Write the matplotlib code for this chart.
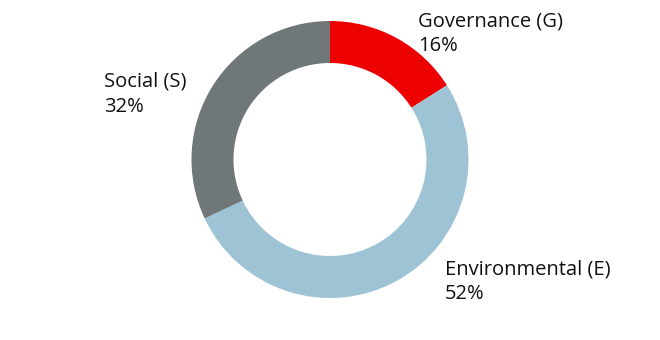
import matplotlib
matplotlib.use("Agg")
import matplotlib.pyplot as plt

categories = ["Governance (G)", "Environmental (E)", "Social (S)"]
values = [16, 52, 32]
colors = ["#EC0000", "#9DC3D4", "#6F7779"]
label_pos = {"Governance (G)": (418, 26), "Environmental (E)": (445, 274), "Social (S)": (104, 87)}

plt.rcParams['font.family'] = ['Open Sans', 'DejaVu Sans']

fig = plt.figure(figsize=(6.6, 3.4), dpi=100)
ax = fig.add_axes([0, 0, 1, 1])
ax.set_xlim(0, 660)
ax.set_ylim(340, 0)
ax.axis('off')

H = 340
ax2 = fig.add_axes([0, 0, 1, 1])
ax2.pie(values, colors=colors, startangle=90, counterclock=False,
        center=(330, H - 159.5), radius=138.5,
        wedgeprops=dict(width=42, linewidth=0), frame=True)
ax2.set_xlim(0, 660)
ax2.set_ylim(0, 340)
ax2.set_aspect('equal')
ax2.axis('off')

for cat, val in zip(categories, values):
    x, y = label_pos[cat]
    ax.text(x, y, cat, fontsize=14.5, color="#111111", va='baseline', ha='left')
    ax.text(x, y + 25, f"{val}%", fontsize=14.5, color="#111111", va='baseline', ha='left')

fig.savefig("out.png", dpi=100)
